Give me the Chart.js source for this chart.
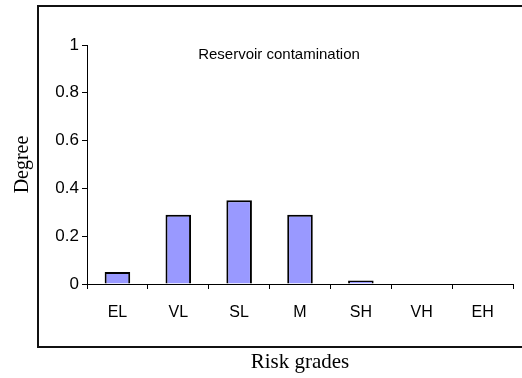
<!DOCTYPE html>
<html>
<head>
<meta charset="utf-8">
<script src="https://cdn.jsdelivr.net/npm/chart.js@4"></script>
<style>
  html, body { margin: 0; padding: 0; background: #fff; overflow: hidden; }
  #wrap { width: 522px; height: 378px; }
</style>
</head>
<body>
<div id="wrap"><canvas id="riskChart" width="522" height="378"></canvas></div>
<script>
const grades = ['EL', 'VL', 'SL', 'M', 'SH', 'VH', 'EH'];
const degrees = [0.05, 0.29, 0.35, 0.29, 0.015, 0, 0];
const yTicks = [0, 0.2, 0.4, 0.6, 0.8, 1];
const panelTitle = 'Reservoir contamination';

// open frame (top, left, bottom) round the plot panel, caption inside the plot area
const panelFrame = {
    id: 'panelFrame',
    afterDraw(chart) {
        const ctx = chart.ctx;
        const area = chart.chartArea;
        ctx.save();
        ctx.strokeStyle = '#111';
        ctx.lineWidth = 2;
        ctx.beginPath();
        ctx.moveTo(chart.width, 6);
        ctx.lineTo(38, 6);
        ctx.lineTo(38, 347);
        ctx.lineTo(chart.width, 347);
        ctx.stroke();
        ctx.fillStyle = '#000';
        ctx.font = '15px "Liberation Sans", Arial, sans-serif';
        ctx.textAlign = 'center';
        ctx.textBaseline = 'middle';
        ctx.fillText(panelTitle, 279, area.top + 10);
        ctx.restore();
    }
};

document.addEventListener('DOMContentLoaded', () => {
    const ctx = document.getElementById('riskChart').getContext('2d');
    new Chart(ctx, {
        type: 'bar',
        data: {
            labels: grades,
            datasets: [{
                label: panelTitle,
                data: degrees,
                backgroundColor: '#9999ff',
                borderColor: '#000',
                borderWidth: 2,
                borderSkipped: 'start',
                categoryPercentage: 1,
                barPercentage: 0.42
            }]
        },
        options: {
            responsive: false,
            animation: false,
            layout: { padding: { top: 45, right: 9, bottom: 0, left: 0 } },
            plugins: {
                legend: { display: false },
                tooltip: { enabled: false }
            },
            scales: {
                x: {
                    grid: { drawOnChartArea: false, tickLength: 5, color: '#000' },
                    border: { color: '#000', width: 1 },
                    ticks: {
                        color: '#000',
                        padding: 14,
                        font: { family: '"Liberation Sans", Arial, sans-serif', size: 16 }
                    },
                    title: {
                        display: true,
                        text: 'Risk grades',
                        color: '#000',
                        padding: { top: 0, bottom: 3 },
                        font: { family: '"Liberation Serif", "Times New Roman", serif', size: 21 }
                    },
                    afterFit(scale) { scale.height = 94; }
                },
                y: {
                    min: 0,
                    max: 1,
                    afterBuildTicks(scale) { scale.ticks = yTicks.map(v => ({ value: v })); },
                    grid: { drawOnChartArea: false, tickLength: 5, color: '#000' },
                    border: { color: '#000', width: 1 },
                    ticks: {
                        color: '#000',
                        padding: 3,
                        callback: (v) => String(v),
                        font: { family: '"Liberation Sans", Arial, sans-serif', size: 17 }
                    },
                    title: {
                        display: true,
                        text: 'Degree',
                        color: '#000',
                        padding: { top: 11, bottom: 0 },
                        font: { family: '"Liberation Serif", "Times New Roman", serif', size: 20 }
                    },
                    afterFit(scale) { scale.width = 87; }
                }
            }
        },
        plugins: [panelFrame]
    });
});
</script>
</body>
</html>
